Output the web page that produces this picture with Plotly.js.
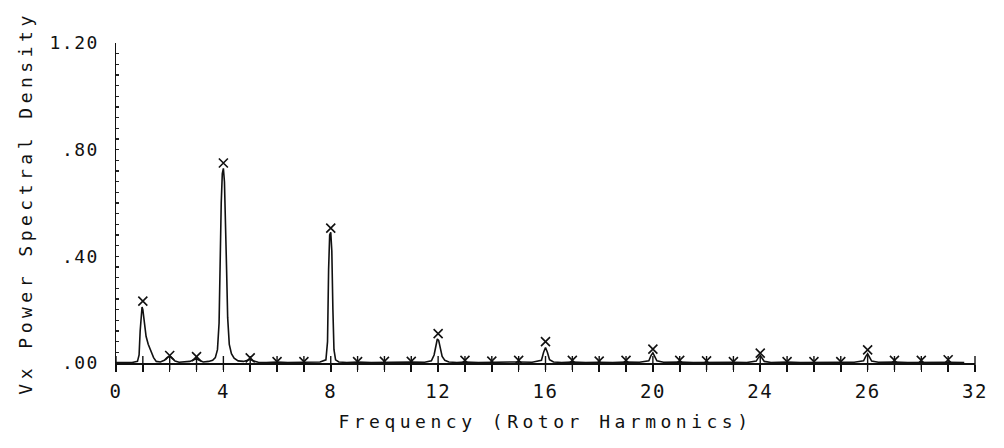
<!DOCTYPE html>
<html>
<head>
<meta charset="utf-8">
<script src="https://cdn.plot.ly/plotly-3.0.1.min.js"></script>
<style>
  html, body { margin: 0; padding: 0; background: #fff; }
  #chart { width: 1004px; height: 448px; }
  /* wide, evenly spaced plotter-style lettering */
  .xtick text, .ytick text { letter-spacing: 1.5px; }
  .xtitle, .ytitle { letter-spacing: 4.5px; }
</style>
</head>
<body>
<div id="chart"></div>
<script>
// Power spectral density of Vx versus frequency in rotor harmonics
const freq = [
  0, 0.3, 0.6, 0.8, 0.86, 0.9, 0.94, 0.97, 1.0, 1.05, 1.12, 1.2, 1.3, 1.4, 1.5,
  1.65, 1.8, 1.9, 2.0, 2.1, 2.2, 2.35, 2.55, 2.75, 2.9, 3.0, 3.1, 3.25, 3.45, 3.6,
  3.7, 3.78, 3.84, 3.88, 3.92, 3.96, 4.0, 4.04, 4.08, 4.12, 4.16, 4.22, 4.3, 4.4, 4.55,
  4.75, 4.9, 5.0, 5.1, 5.3, 5.6, 6.0, 6.4, 6.8, 7.2, 7.6, 7.82,
  7.88, 7.92, 7.96, 8.0, 8.04, 8.08, 8.12, 8.18, 8.3, 8.6, 9.0, 9.5, 10, 10.5, 11, 11.5,
  11.75, 11.85, 11.92, 11.97, 12.02, 12.08, 12.15, 12.25, 12.4, 12.7, 13, 13.5, 14, 14.5, 15, 15.5,
  15.85, 15.93, 16, 16.07, 16.15, 16.3, 16.6, 17, 17.5, 18, 18.5, 19, 19.5,
  19.85, 19.93, 20, 20.07, 20.15, 20.4, 21, 21.5, 22, 22.5, 23, 23.5,
  23.85, 23.93, 24, 24.07, 24.15, 24.4, 25, 25.5, 26, 26.5, 27, 27.5,
  27.85, 27.93, 28, 28.07, 28.15, 28.4, 29, 29.5, 30, 30.5, 31, 31.6
];
const psd = [
  0.002, 0.003, 0.002, 0.006, 0.03, 0.12, 0.19, 0.21, 0.2, 0.15, 0.1, 0.07, 0.045, 0.02, 0.006,
  0.004, 0.01, 0.02, 0.026, 0.018, 0.007, 0.003, 0.004, 0.006, 0.012, 0.016, 0.01, 0.004, 0.006, 0.01,
  0.02, 0.05, 0.15, 0.4, 0.6, 0.71, 0.73, 0.68, 0.55, 0.35, 0.17, 0.07, 0.035, 0.018, 0.008,
  0.006, 0.01, 0.014, 0.008, 0.003, 0.002, 0.004, 0.002, 0.003, 0.002, 0.004, 0.012,
  0.08, 0.35, 0.48, 0.49, 0.42, 0.2, 0.05, 0.012, 0.004, 0.002, 0.004, 0.002, 0.003, 0.002, 0.004, 0.003,
  0.008, 0.03, 0.07, 0.09, 0.085, 0.05, 0.025, 0.01, 0.004, 0.002, 0.004, 0.002, 0.003, 0.002, 0.004, 0.003,
  0.01, 0.04, 0.058, 0.04, 0.012, 0.004, 0.002, 0.004, 0.002, 0.003, 0.002, 0.004, 0.003,
  0.008, 0.028, 0.038, 0.026, 0.008, 0.003, 0.004, 0.002, 0.003, 0.002, 0.003, 0.002,
  0.007, 0.02, 0.028, 0.018, 0.006, 0.002, 0.004, 0.002, 0.003, 0.002, 0.003, 0.003,
  0.008, 0.025, 0.035, 0.022, 0.007, 0.003, 0.004, 0.002, 0.003, 0.002, 0.003, 0.002
];

// Amplitude at each integer rotor harmonic (marked with an X)
const harmonics = [1, 2, 3, 4, 5, 6, 7, 8, 9, 10, 11, 12, 13, 14, 15, 16,
                   17, 18, 19, 20, 21, 22, 23, 24, 25, 26, 27, 28, 29, 30, 31];
const harmonicPsd = [0.232, 0.028, 0.024, 0.75, 0.019, 0.005, 0.005, 0.506, 0.005, 0.006, 0.006,
                     0.11, 0.01, 0.007, 0.01, 0.08, 0.01, 0.007, 0.01, 0.052, 0.01, 0.008, 0.005,
                     0.037, 0.005, 0.005, 0.005, 0.049, 0.01, 0.01, 0.012];

// Axis ticks: a mark at every harmonic, labels every fourth
const xTickVals = [0, 1, 2, 3, 4, 5, 6, 7, 8, 9, 10, 11, 12, 13, 14, 15, 16,
                   17, 18, 19, 20, 21, 22, 23, 24, 25, 26, 27, 28, 29, 30, 31, 32];
const xTickText = ['0', '', '', '', '4', '', '', '', '8', '', '', '', '12', '', '', '', '16',
                   '', '', '', '20', '', '', '', '24', '', '', '', '26', '', '', '', '32'];
// y ticks: fine marks every 0.04, labels every 0.40
const yTickVals = [0, 0.04, 0.08, 0.12, 0.16, 0.2, 0.24, 0.28, 0.32, 0.36, 0.4,
                   0.44, 0.48, 0.52, 0.56, 0.6, 0.64, 0.68, 0.72, 0.76, 0.8,
                   0.84, 0.88, 0.92, 0.96, 1.0, 1.04, 1.08, 1.12, 1.16, 1.2];
const yTickText = ['.00', '', '', '', '', '', '', '', '', '', '.40',
                   '', '', '', '', '', '', '', '', '', '.80',
                   '', '', '', '', '', '', '', '', '', '1.20'];

const FONT = '"DejaVu Sans Mono", "Liberation Mono", monospace';

const traces = [
  // short vertical strokes across the frequency axis at every harmonic
  {
    type: 'scatter', mode: 'markers',
    x: xTickVals, y: xTickVals.map(() => 0),
    marker: { symbol: 'line-ns-open', size: 10, color: '#111', line: { color: '#111', width: 1.4 } },
    cliponaxis: false,
    hoverinfo: 'skip'
  },
  {
    type: 'scatter', mode: 'lines',
    x: freq, y: psd,
    line: { color: '#111', width: 1.6 },
    hoverinfo: 'skip'
  },
  {
    type: 'scatter', mode: 'markers',
    x: harmonics, y: harmonicPsd,
    marker: { symbol: 'x-thin-open', size: 9, color: '#111', line: { color: '#111', width: 1.6 } },
    hoverinfo: 'skip'
  }
];

const layout = {
  width: 1004, height: 448,
  margin: { l: 116, r: 29, t: 43, b: 85 },
  paper_bgcolor: '#fff', plot_bgcolor: '#fff',
  showlegend: false,
  font: { family: FONT, color: '#111' },
  xaxis: {
    range: [0, 32], fixedrange: true,
    showline: true, linecolor: '#111', linewidth: 1.5,
    showgrid: false, zeroline: false,
    ticks: 'outside', ticklen: 7, tickwidth: 1.6, tickcolor: '#111',
    tickmode: 'array', tickvals: xTickVals, ticktext: xTickText,
    tickfont: { family: FONT, size: 19, color: '#111' },
    ticklabelstandoff: 4,
    title: { text: 'Frequency (Rotor Harmonics)', font: { family: FONT, size: 18, color: '#111' }, standoff: 14 },
    automargin: false
  },
  yaxis: {
    range: [0, 1.2], fixedrange: true,
    showline: true, linecolor: '#111', linewidth: 1.5,
    showgrid: false, zeroline: false,
    ticks: 'inside', ticklen: 3, tickwidth: 1.1, tickcolor: '#222',
    tickmode: 'array', tickvals: yTickVals, ticktext: yTickText,
    tickfont: { family: FONT, size: 18, color: '#111' },
    ticklabelstandoff: 12,
    title: { text: 'Vx Power Spectral Density', font: { family: FONT, size: 18, color: '#111' }, standoff: 12 },
    automargin: false
  }
};

Plotly.newPlot('chart', traces, layout, { staticPlot: true, displayModeBar: false });
</script>
</body>
</html>
